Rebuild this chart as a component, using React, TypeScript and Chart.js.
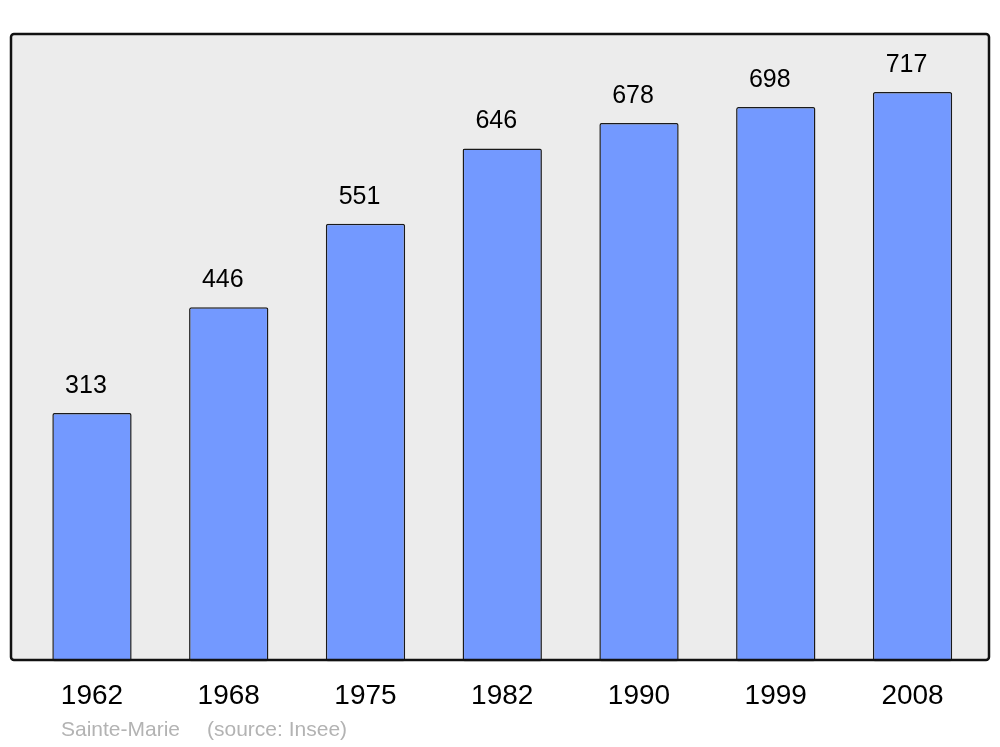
import React, { useEffect, useRef } from "react";
import { Chart, registerables } from "chart.js";

Chart.register(...registerables);

const years = ["1962", "1968", "1975", "1982", "1990", "1999", "2008"];
const population = [313, 446, 551, 646, 678, 698, 717];
const footerName = "Sainte-Marie";
const footerSource = "(source: Insee)";

const FONT = "'Liberation Sans', Arial, sans-serif";

const boxPlugin = {
  id: "boxPlugin",
  beforeDatasetsDraw(chart: any) {
    const ctx = chart.ctx;
    ctx.save();
    ctx.fillStyle = "#ececec";
    ctx.beginPath();
    ctx.roundRect(11, 34, 978, 626, 3);
    ctx.fill();
    ctx.restore();
  },
  afterDatasetsDraw(chart: any) {
    const ctx = chart.ctx;
    ctx.save();
    ctx.strokeStyle = "#111111";
    ctx.lineWidth = 2.5;
    ctx.beginPath();
    ctx.roundRect(11, 34, 978, 626, 3);
    ctx.stroke();
    // value labels
    const meta = chart.getDatasetMeta(0);
    ctx.fillStyle = "#000000";
    ctx.font = `25px ${FONT}`;
    ctx.textAlign = "center";
    ctx.textBaseline = "middle";
    meta.data.forEach((bar: any, i: number) => {
      ctx.fillText(String(population[i]), bar.x - 6, bar.y - 27);
    });
    // footer
    ctx.fillStyle = "#b3b3b3";
    ctx.font = `21px ${FONT}`;
    ctx.textAlign = "left";
    ctx.fillText(footerName, 61, 730);
    ctx.fillText(footerSource, 207, 730);
    ctx.restore();
  },
};

export default function App() {
  const ref = useRef<HTMLCanvasElement>(null);
  useEffect(() => {
    if (!ref.current) return;
    const chart = new Chart(ref.current, {
      type: "bar",
      data: {
        labels: years,
        datasets: [
          {
            data: population,
            backgroundColor: "#7399ff",
            borderColor: "#1a1a1a",
            borderWidth: 1.5,
            borderRadius: 2,
            borderSkipped: false,
            barPercentage: 0.58,
            categoryPercentage: 1,
          },
        ],
      },
      options: {
        responsive: false,
        animation: false,
        layout: { padding: { left: 23.6, right: 19.1, top: 34, bottom: 23.8 } },
        plugins: {
          legend: { display: false },
          tooltip: { enabled: false },
          title: { display: false },
        },
        scales: {
          x: {
            grid: { display: false },
            border: { display: false },
            ticks: {
              color: "#000000",
              font: { size: 28, family: FONT },
              padding: 10,
              maxRotation: 0,
            },
          },
          y: {
            display: false,
            min: 0,
            max: 790,
          },
        },
      },
      plugins: [boxPlugin],
    });
    return () => chart.destroy();
  }, []);
  return (
    <div style={{ position: "absolute", left: 0, top: 0, width: 1000, height: 747, background: "#ffffff" }}>
      <canvas ref={ref} width={1000} height={747} style={{ display: "block" }} />
    </div>
  );
}
